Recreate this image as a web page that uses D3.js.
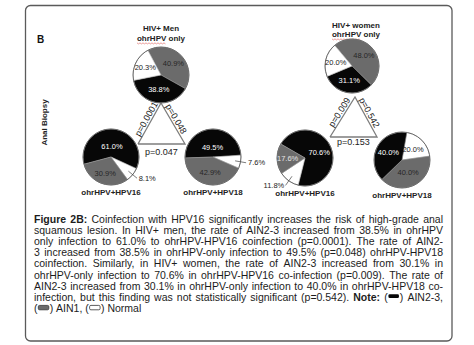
<!DOCTYPE html>
<html><head><meta charset="utf-8">
<script src="https://cdn.jsdelivr.net/npm/d3@7"></script>
<style>
html,body{margin:0;padding:0;background:#fff;}
svg{display:block;}
text{font-family:"Liberation Sans",Arial,Helvetica,sans-serif;}
</style></head><body>
<svg id="chart" width="474" height="345"></svg>
<script>
// Biopsy outcome categories and the HPV groups compared in each panel
const categories = ["AIN2-3", "AIN1", "Normal"];
const groups = ["ohrHPV only", "ohrHPV+HPV16", "ohrHPV+HPV18"];
const panelTitles = ["HIV+ Men", "HIV+ women"];
const sideLabel = "Anal Biopsy";
const panelLetter = "B";

// Percentages, in category order: AIN2-3, AIN1, Normal
const menOnly = [38.8, 40.9, 20.3];
const menHPV16 = [61.0, 30.9, 8.1];
const menHPV18 = [49.5, 42.9, 7.6];
const womenOnly = [31.1, 48.0, 20.0];
const womenHPV16 = [70.6, 17.6, 11.8];
const womenHPV18 = [40.0, 40.0, 20.0];

// p-values: only vs HPV16, only vs HPV18, HPV16 vs HPV18
const menPValues = ["p=0.0001", "p=0.048", "p=0.047"];
const womenPValues = ["p=0.009", "p=0.542", "p=0.153"];

// Caption; **..** marks bold words, {i} a legend swatch for category i
const captionLines = [
  "**Figure 2B:** Coinfection with HPV16 significantly increases the risk of high-grade anal",
  "squamous lesion. In HIV+ men, the rate of AIN2-3 increased from 38.5% in ohrHPV",
  "only infection to 61.0% to ohrHPV-HPV16 coinfection (p=0.0001). The rate of AIN2-",
  "3 increased from 38.5% in ohrHPV-only infection to 49.5% (p=0.048) ohrHPV-HPV18",
  "coinfection. Similarly, in HIV+ women, the rate of AIN2-3 increased from 30.1% in",
  "ohrHPV-only infection to 70.6% in ohrHPV-HPV16 co-infection (p=0.009). The rate of",
  "AIN2-3 increased from 30.1% in ohrHPV-only infection to 40.0% in ohrHPV-HPV18 co-",
  "infection, but this finding was not statistically significant (p=0.542). **Note:** ({0}) AIN2-3,",
  "({1}) AIN1, ({2}) Normal"
];

const panelData = [
  {title: panelTitles[0], pies: [menOnly, menHPV16, menHPV18], p: menPValues},
  {title: panelTitles[1], pies: [womenOnly, womenHPV16, womenHPV18], p: womenPValues}
];

// ---- layout ----
const color = d3.scaleOrdinal(categories, ["#070707", "#6b6b6b", "#ffffff"]);
const inkOn = d3.scaleOrdinal(categories, ["#ffffff", "#262626", "#1a1a1a"]);

const layout = [
  {
    titleX: 161, titleY: 31, subY: 41,
    pies: [
      {cx: 161, cy: 75, r: 28, start: -28, order: [1, 0, 2], lr: [0.5, 0.62, 0.62]},
      {cx: 111, cy: 157, r: 28, start: -105, order: [0, 2, 1], lr: [0.4, 0.62, 0.62]},
      {cx: 213, cy: 157, r: 28, start: -92, order: [0, 2, 1], lr: [0.35, 0.55, 0.62]}
    ],
    tri: {apex: [161, 103], left: [138, 144], right: [185, 144]},
    baseLabelY: 155
  },
  {
    titleX: 356, titleY: 28, subY: 37,
    pies: [
      {cx: 352, cy: 66, r: 27, start: -40, order: [1, 0, 2], lr: [0.55, 0.6, 0.62]},
      {cx: 305, cy: 158, r: 28, start: -60, order: [0, 2, 1], lr: [0.55, 0.62, 0.62]},
      {cx: 402, cy: 160, r: 28, start: 10, order: [2, 1, 0], lr: [0.55, 0.5, 0.55]}
    ],
    tri: {apex: [355, 97], left: [330, 137], right: [377, 137]},
    baseLabelY: 145
  }
];

const svg = d3.select("#chart");
const rad = d => d * Math.PI / 180;

// frame
svg.append("rect")
  .attr("x", 25.5).attr("y", 5.5).attr("width", 426.5).attr("height", 335.5)
  .attr("rx", 5).attr("fill", "#fff").attr("stroke", "#5a5a5a").attr("stroke-width", 1.3);

svg.append("text").attr("x", 37).attr("y", 43)
  .attr("font-size", 10).attr("font-weight", "bold").attr("fill", "#111").text(panelLetter);

svg.append("text")
  .attr("transform", "translate(47,122.5) rotate(-90)")
  .attr("text-anchor", "middle").attr("font-size", 8).attr("font-weight", "bold")
  .attr("fill", "#222").text(sideLabel);

panelData.forEach((panel, pi) => {
  const L = layout[pi];
  const g = svg.append("g");

  // headings
  g.append("text").attr("x", L.titleX).attr("y", L.titleY)
    .attr("text-anchor", "middle").attr("font-size", 8).attr("font-weight", "bold")
    .attr("fill", "#222").text(panel.title);
  const sub = g.append("text").attr("x", L.titleX).attr("y", L.subY)
    .attr("text-anchor", "middle").attr("font-size", 8).attr("font-weight", "bold")
    .attr("fill", "#222").text(groups[0]);
  const sn = sub.node();
  const sx = sn.getStartPositionOfChar(0).x;
  const sw = sn.getSubStringLength(0, 6);
  const wave = d3.range(0, Math.floor(sw / 1.5) + 1).map(i => [sx + i * 1.5, L.subY + 2.2 + (i % 2 ? 0.7 : -0.3)]);
  g.append("path").attr("d", d3.line()(wave)).attr("fill", "none")
    .attr("stroke", "#d9534f").attr("stroke-width", 0.7).attr("opacity", 0.8);

  // comparison triangle
  const T = L.tri;
  g.append("path")
    .attr("d", d3.line()([T.left, T.apex, T.right, T.left]))
    .attr("fill", "none").attr("stroke", "#7d7d7d").attr("stroke-width", 1.3);

  const sideText = (a, b, txt, t) => {
    const ang = Math.atan2(b[1] - a[1], b[0] - a[0]) * 180 / Math.PI;
    const x = a[0] + (b[0] - a[0]) * t, y = a[1] + (b[1] - a[1]) * t;
    g.append("text")
      .attr("transform", `translate(${x},${y}) rotate(${ang})`)
      .attr("y", -2).attr("text-anchor", "middle").attr("font-size", 9)
      .attr("fill", "#222").text(txt);
  };
  sideText(T.left, T.apex, panel.p[0], 0.55);
  sideText(T.apex, T.right, panel.p[1], 0.45);
  g.append("text").attr("x", (T.left[0] + T.right[0]) / 2).attr("y", L.baseLabelY)
    .attr("text-anchor", "middle").attr("font-size", 9).attr("fill", "#222").text(panel.p[2]);

  // pies
  panel.pies.forEach((vals, k) => {
    const P = L.pies[k];
    const slices = P.order.map(ci => ({cat: categories[ci], value: vals[ci], lr: P.lr[ci]}));
    const pie = d3.pie().sort(null).value(d => d.value)
      .startAngle(rad(P.start)).endAngle(rad(P.start) + 2 * Math.PI);
    const arc = d3.arc().innerRadius(0).outerRadius(P.r);
    const arcs = pie(slices);
    const pg = g.append("g").attr("transform", `translate(${P.cx},${P.cy})`);

    pg.selectAll("path.slice").data(arcs).join("path").attr("class", "slice")
      .attr("d", arc).attr("fill", d => color(d.data.cat))
      .attr("stroke", "#9a9a9a").attr("stroke-width", 0.5);
    pg.append("circle").attr("r", P.r).attr("fill", "none")
      .attr("stroke", "#6a6a6a").attr("stroke-width", 1);

    arcs.forEach(d => {
      const mid = (d.startAngle + d.endAngle) / 2;
      const ux = Math.sin(mid), uy = -Math.cos(mid);
      const label = d3.format(".1f")(d.data.value) + "%";
      if (d.data.value < 15) {
        // small slice: label outside with a leader line
        pg.append("line")
          .attr("x1", ux * P.r * 0.8).attr("y1", uy * P.r * 0.8)
          .attr("x2", ux * P.r * 1.2).attr("y2", uy * P.r * 1.2)
          .attr("stroke", "#444").attr("stroke-width", 0.7);
        pg.append("text")
          .attr("x", ux * P.r * 1.25 + (ux >= 0 ? 0.5 : -0.5)).attr("y", uy * P.r * 1.2 + 2.5)
          .attr("text-anchor", ux >= 0 ? "start" : "end")
          .attr("font-size", 7.5).attr("fill", "#222").text(label);
      } else {
        const rr = P.r * d.data.lr;
        const light = d.data.cat === "AIN1" && d.data.value < 20;
        pg.append("text")
          .attr("x", ux * rr).attr("y", uy * rr + 2.7)
          .attr("text-anchor", "middle").attr("font-size", 7.5)
          .attr("fill", light ? "#e4e4e4" : inkOn(d.data.cat)).text(label);
      }
    });

    // the top pie is named by its heading; the lower pies get a caption
    if (k > 0) {
      g.append("text").attr("x", P.cx).attr("y", P.cy + P.r + 10)
        .attr("text-anchor", "middle").attr("font-size", 8).attr("font-weight", "bold")
        .attr("fill", "#222").text(groups[k]);
    }
  });
});

// ---- caption, justified ----
const capX0 = 34, capX1 = 443, capY0 = 223, capDy = 11.1, capFont = 10.5;
const minSpace = 2.4;
const cap = svg.append("g").attr("font-size", capFont).attr("fill", "#1c1c1c");

function parseLine(line) {
  let bold = false;
  return line.split(" ").map(w => {
    const segs = [];
    let rest = w;
    if (rest.startsWith("**")) { bold = true; rest = rest.slice(2); }
    let closeAfter = false;
    if (rest.endsWith("**")) { closeAfter = true; rest = rest.slice(0, -2); }
    const m = rest.match(/^\(\{(\d)\}\)(.*)$/);
    if (m) {
      segs.push({text: "("}, {swatch: +m[1]}, {text: ")" + m[2]});
    } else {
      segs.push({text: rest, bold});
    }
    if (closeAfter) bold = false;
    return segs;
  });
}

captionLines.forEach((line, li) => {
  const y = capY0 + li * capDy;
  const words = parseLine(line).map(segs => {
    const wg = cap.append("g");
    const inner = wg.append("g");
    let x = 0;
    segs.forEach(s => {
      if (s.swatch != null) {
        const cat = categories[s.swatch];
        inner.append("rect").attr("x", x + 0.8).attr("y", -6.4)
          .attr("width", 10.5).attr("height", s.swatch === 0 ? 3.8 : 4.4).attr("rx", 1.3)
          .attr("fill", color(cat)).attr("stroke", s.swatch === 0 ? "none" : "#333")
          .attr("stroke-width", 0.8);
        x += 12.2;
      } else {
        const t = inner.append("text").attr("x", x).attr("y", 0)
          .attr("font-weight", s.bold ? "bold" : null).text(s.text);
        x += t.node().getComputedTextLength();
      }
    });
    return {wg, inner, w: x};
  });
  const total = d3.sum(words, d => d.w);
  const gaps = words.length - 1;
  const avail = capX1 - capX0;
  // squeeze glyphs slightly if a line would not fit with minimal spacing
  const squeeze = Math.min(1, (avail - gaps * minSpace) / total);
  words.forEach(d => { d.inner.attr("transform", `scale(${squeeze},1)`); d.w *= squeeze; });
  const justify = li < captionLines.length - 1 && gaps > 0;
  const space = justify ? (avail - total * squeeze) / gaps : capFont * 0.278;
  let x = capX0;
  words.forEach(d => { d.wg.attr("transform", `translate(${x},${y})`); x += d.w + space; });
});
</script>
</body></html>
